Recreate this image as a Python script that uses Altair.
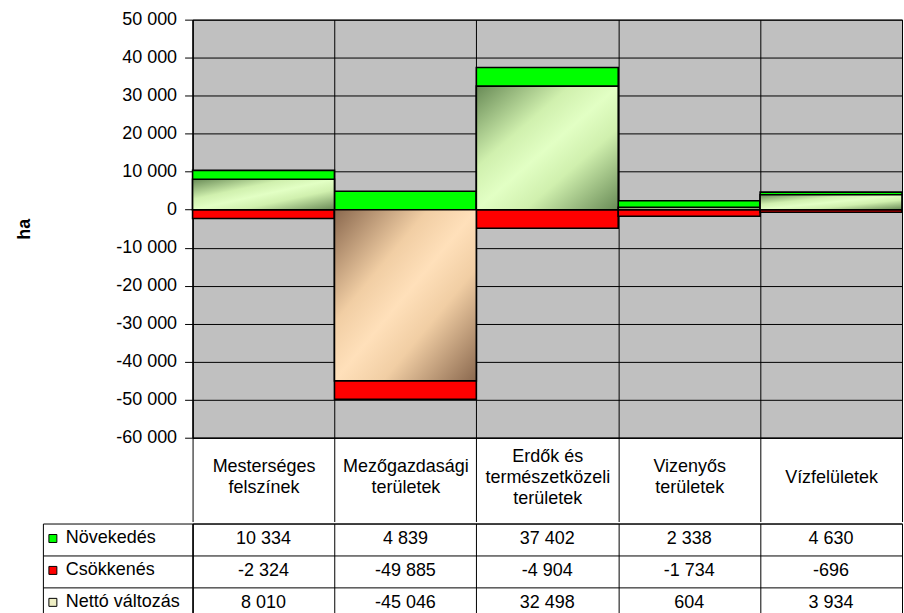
import altair as alt
import pandas as pd

# ---- data ----
categories = [
    "Mesterséges\nfelszínek",
    "Mezőgazdasági\nterületek",
    "Erdők és\ntermészetközeli\nterületek",
    "Vizenyős\nterületek",
    "Vízfelületek",
]
series_names = ["Növekedés", "Csökkenés", "Nettó változás"]
novekedes = [10334, 4839, 37402, 2338, 4630]
csokkenes = [-2324, -49885, -4904, -1734, -696]
netto = [8010, -45046, 32498, 604, 3934]
y_ticks = [-60000, -50000, -40000, -30000, -20000, -10000, 0, 10000, 20000, 30000, 40000, 50000]

rows = []
for i, c in enumerate(categories):
    rows.append({"cat": c, "series": series_names[0], "value": novekedes[i]})
    rows.append({"cat": c, "series": series_names[1], "value": csokkenes[i]})
    rows.append({"cat": c, "series": series_names[2], "value": netto[i]})
df = pd.DataFrame(rows)

FONT = "Liberation Sans"
FS = 18
LH = 21
W = 711

n_lines = "length(split(datum.value, '\\n'))"
label_baseline = {
    "condition": [
        {"test": n_lines + " == 1", "value": "line-top"},
        {"test": n_lines + " == 3", "value": "line-bottom"},
    ],
    "value": "middle",
}

x_main = alt.X(
    "cat:N",
    sort=categories,
    scale=alt.Scale(type="band", paddingInner=0, paddingOuter=0),
    axis=alt.Axis(
        title=None,
        labelExpr="split(datum.label, '\\n')",
        labelAngle=0,
        labelFontSize=FS,
        labelLineHeight=LH,
        labelBaseline=label_baseline,
        labelPadding=-55,
        labelOverlap=False,
        labelColor="black",
        tickBand="extent",
        tickSize=84,
        tickColor="black",
        tickWidth=1,
        domainColor="black",
        grid=True,
        gridColor="black",
        gridWidth=1,
        gridOpacity=1,
    ),
)
y_main = alt.Y(
    "value:Q",
    scale=alt.Scale(domain=[-60000, 50000], nice=False, zero=True),
    axis=alt.Axis(
        values=y_ticks,
        title="ha",
        titleFontSize=FS,
        titleFontWeight="bold",
        titleAngle=-90,
        titleBaseline="alphabetic",
        titleX=-163,
        titleColor="black",
        labelFontSize=FS,
        labelColor="black",
        labelPadding=8,
        tickSize=8,
        tickColor="black",
        domainColor="black",
        grid=True,
        gridColor="black",
        gridWidth=1,
        gridOpacity=1,
        format=",d",
    ),
)

base = alt.Chart(df)

bars_gr = base.transform_filter(
    alt.FieldOneOfPredicate(field="series", oneOf=series_names[:2])
).mark_bar(stroke="black", strokeWidth=1.6).encode(
    x=x_main,
    y=y_main,
    fill=alt.Fill(
        "series:N",
        scale=alt.Scale(domain=series_names, range=["#00ff00", "#ff0000", "#eeeec4"]),
        legend=alt.Legend(
            orient="none",
            legendX=-149,
            legendY=511,
            title=None,
            direction="vertical",
            symbolType="square",
            symbolSize=64,
            symbolStrokeColor="black",
            symbolStrokeWidth=1,
            labelFontSize=FS,
            labelColor="black",
            labelOffset=4,
            rowPadding=14,
            padding=0,
        ),
    ),
)

grad_pos = alt.LinearGradient(
    gradient="linear",
    stops=[
        alt.GradientStop(offset=0, color="#688a56"),
        alt.GradientStop(offset=0.33, color="#d0f0ae"),
        alt.GradientStop(offset=0.5, color="#e2ffc4"),
        alt.GradientStop(offset=0.67, color="#d0f0ae"),
        alt.GradientStop(offset=1, color="#688a56"),
    ],
    x1=0, y1=0, x2=1, y2=1,
)
grad_neg = alt.LinearGradient(
    gradient="linear",
    stops=[
        alt.GradientStop(offset=0, color="#8a684e"),
        alt.GradientStop(offset=0.33, color="#f1cea4"),
        alt.GradientStop(offset=0.5, color="#ffe0ba"),
        alt.GradientStop(offset=0.67, color="#f1cea4"),
        alt.GradientStop(offset=1, color="#8a684e"),
    ],
    x1=0, y1=0, x2=1, y2=1,
)

net_pos = base.transform_filter(
    (alt.datum.series == series_names[2]) & (alt.datum.value >= 0)
).mark_bar(fill=grad_pos, stroke="black", strokeWidth=1.6).encode(x=x_main, y=y_main)

net_neg = base.transform_filter(
    (alt.datum.series == series_names[2]) & (alt.datum.value < 0)
).mark_bar(fill=grad_neg, stroke="black", strokeWidth=1.6).encode(x=x_main, y=y_main)

main = alt.layer(bars_gr, net_pos, net_neg).properties(
    width=W, height=419, view=alt.ViewBackground(fill="#c0c0c0", stroke="black")
)

# ---- data table ----
x_tab = alt.X(
    "cat:N",
    sort=categories,
    scale=alt.Scale(type="band", paddingInner=0, paddingOuter=0),
    axis=alt.Axis(
        title=None, labels=False, ticks=False, domain=False,
        grid=True, gridColor="black", gridOpacity=1, tickBand="extent",
    ),
)
y_tab_scale = alt.Scale(type="band", paddingInner=0, paddingOuter=0)

tab_text = alt.Chart(df).mark_text(
    fontSize=FS, font=FONT, color="black", align="center", baseline="middle"
).encode(
    x=x_tab,
    y=alt.Y(
        "series:N",
        sort=series_names,
        scale=y_tab_scale,
        axis=alt.Axis(
            orient="left", title=None, labels=False,
            ticks=True, tickSize=150, tickBand="extent", tickColor="black",
            domain=True, domainColor="black",
            grid=True, gridColor="black", gridOpacity=1,
        ),
    ),
    text=alt.Text("value:Q", format=",d"),
)

tab_border = alt.Chart(df).mark_point(opacity=0).encode(
    y=alt.Y(
        "series:N",
        sort=series_names,
        scale=y_tab_scale,
        axis=alt.Axis(
            orient="left", offset=150, title=None, labels=False,
            ticks=False, grid=False, domain=True, domainColor="black",
        ),
    ),
)

table = alt.layer(tab_text, tab_border).resolve_axis(y="independent").properties(
    width=W, height=96, view=alt.ViewBackground(fill="white", stroke="black")
)

chart = alt.vconcat(main, table, spacing=0).properties(
    padding={"left": 15, "top": 9, "right": 0, "bottom": 0},
    background="white",
).configure(
    font=FONT,
    locale={
        "number": {
            "decimal": ",",
            "thousands": " ",
            "grouping": [3],
            "currency": ["", ""],
            "minus": "-",
        }
    },
)

chart.save("out.html", embed_options={"renderer": "svg", "actions": False})
